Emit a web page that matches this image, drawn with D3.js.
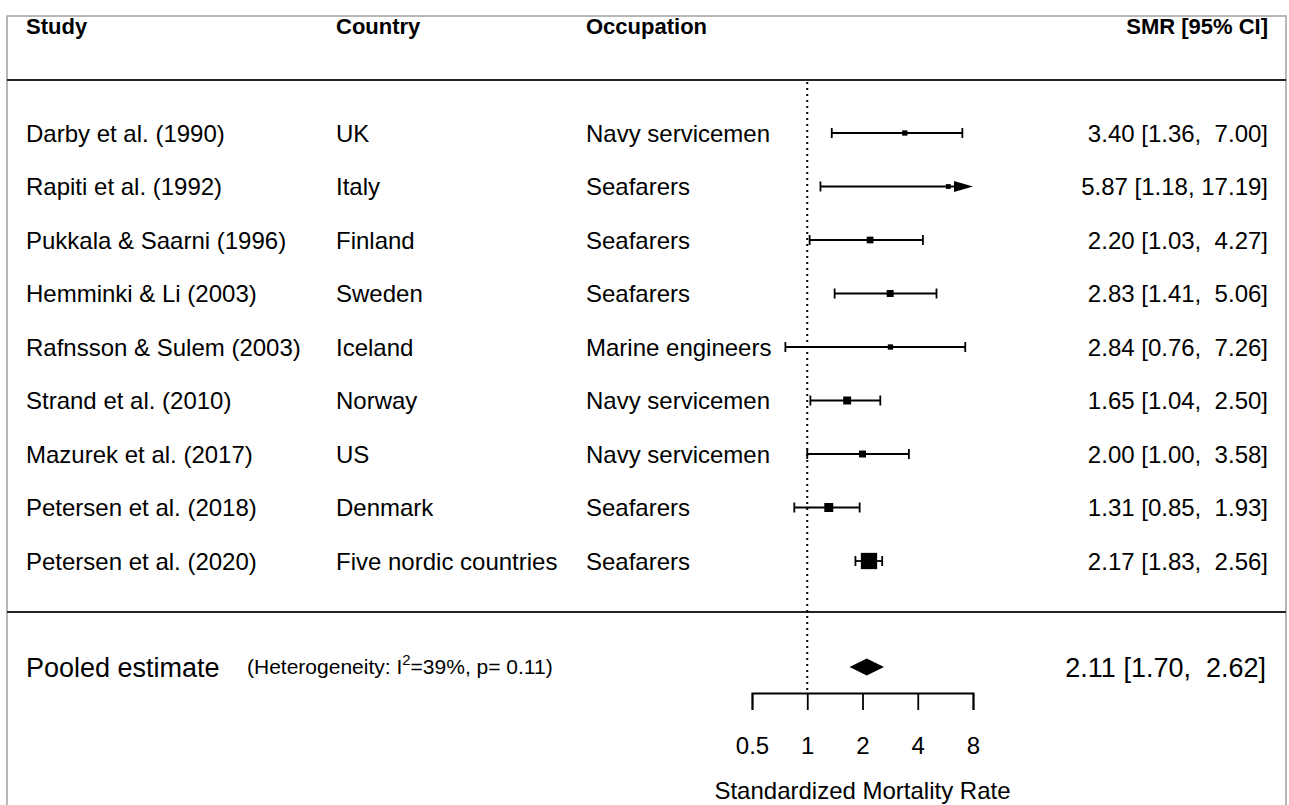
<!DOCTYPE html>
<html>
<head>
<meta charset="utf-8">
<script src="https://cdn.jsdelivr.net/npm/d3@7"></script>
<style>
  html, body { margin: 0; padding: 0; background: #fff; }
  svg text { font-family: "Liberation Sans", Arial, Helvetica, sans-serif; fill: #000; white-space: pre; }
</style>
</head>
<body>
<svg id="chart" width="1289" height="805"></svg>
<script>
// ---- data ----
const studies = ["Darby et al. (1990)", "Rapiti et al. (1992)", "Pukkala & Saarni (1996)", "Hemminki & Li (2003)",
  "Rafnsson & Sulem (2003)", "Strand et al. (2010)", "Mazurek et al. (2017)", "Petersen et al. (2018)", "Petersen et al. (2020)"];
const countries = ["UK", "Italy", "Finland", "Sweden", "Iceland", "Norway", "US", "Denmark", "Five nordic countries"];
const occupations = ["Navy servicemen", "Seafarers", "Seafarers", "Seafarers", "Marine engineers",
  "Navy servicemen", "Navy servicemen", "Seafarers", "Seafarers"];
const smr = [3.40, 5.87, 2.20, 2.83, 2.84, 1.65, 2.00, 1.31, 2.17];
const lower = [1.36, 1.18, 1.03, 1.41, 0.76, 1.04, 1.00, 0.85, 1.83];
const upper = [7.00, 17.19, 4.27, 5.06, 7.26, 2.50, 3.58, 1.93, 2.56];
const weights = [5.1, 3.9, 8.6, 9.3, 5.1, 11.8, 9.3, 14.3, 32.5];
const pooled = { est: 2.11, lo: 1.70, hi: 2.62, i2: 39, p: 0.11 };
const headers = ["Study", "Country", "Occupation", "SMR [95% CI]"];
const tickValues = [0.5, 1, 2, 4, 8];
const axisTitle = "Standardized Mortality Rate";

// ---- layout ----
const svg = d3.select("#chart");
const W = 1289, H = 805;
const colX = { study: 26, country: 336, occ: 586, smr: 1268 };
const x = d3.scaleLog().base(2).domain([0.5, 8]).range([752, 973]);
const y = d3.scaleLinear().domain([0, studies.length - 1]).range([133, 561]);
const yPooled = 667;
const axisY = 693;
const size = d3.scaleLinear().domain(d3.extent(weights)).range([4.8, 16.3]);

// border
svg.append("path")
  .attr("d", `M7,${H + 5}V16H1286V${H + 5}`)
  .attr("fill", "none").attr("stroke", "#a0a0a0").attr("stroke-width", 1.5);

// horizontal rules
[80, 612].forEach(yy => {
  svg.append("line").attr("x1", 7).attr("x2", 1286).attr("y1", yy).attr("y2", yy)
    .attr("stroke", "#222").attr("stroke-width", 2);
});

// headers
const hdr = svg.append("g").attr("font-size", 22).attr("font-weight", "bold");
hdr.append("text").attr("x", colX.study).attr("y", 34).text(headers[0]);
hdr.append("text").attr("x", colX.country).attr("y", 34).text(headers[1]);
hdr.append("text").attr("x", colX.occ).attr("y", 34).text(headers[2]);
hdr.append("text").attr("x", colX.smr).attr("y", 34).attr("text-anchor", "end").text(headers[3]);

// reference line at 1
svg.append("line").attr("x1", x(1)).attr("x2", x(1)).attr("y1", 82).attr("y2", axisY)
  .attr("stroke", "#000").attr("stroke-width", 2).attr("stroke-dasharray", "2,4");

// rows text
const rows = svg.append("g").attr("font-size", 24);
const fmt = d3.format(".2f");
const pad = (s, n) => s.padStart(n, " ");
studies.forEach((s, i) => {
  const yy = y(i) + 8.5;
  rows.append("text").attr("x", colX.study).attr("y", yy).text(s);
  rows.append("text").attr("x", colX.country).attr("y", yy).text(countries[i]);
  rows.append("text").attr("x", colX.occ).attr("y", yy).text(occupations[i]);
  rows.append("text").attr("x", colX.smr).attr("y", yy).attr("text-anchor", "end")
    .text(`${fmt(smr[i])} [${fmt(lower[i])}, ${pad(fmt(upper[i]), 5)}]`);
});

// CI marks
const marks = svg.append("g");
const xMax = x.domain()[1];
const sw = 1.8;
studies.forEach((s, i) => {
  const yy = y(i);
  const x0 = x(lower[i]);
  const trunc = upper[i] > xMax;
  const x1 = trunc ? x(xMax) - 19 : x(upper[i]);
  marks.append("line").attr("x1", x0).attr("x2", x1).attr("y1", yy).attr("y2", yy)
    .attr("stroke", "#000").attr("stroke-width", sw);
  marks.append("line").attr("x1", x0).attr("x2", x0).attr("y1", yy - 5).attr("y2", yy + 5)
    .attr("stroke", "#000").attr("stroke-width", sw);
  if (trunc) {
    const xt = x(xMax);
    marks.append("path").attr("d", `M${xt},${yy}L${xt - 19},${yy - 5.5}L${xt - 19},${yy + 5.5}Z`).attr("fill", "#000");
  } else {
    marks.append("line").attr("x1", x1).attr("x2", x1).attr("y1", yy - 5).attr("y2", yy + 5)
      .attr("stroke", "#000").attr("stroke-width", sw);
  }
  const sz = size(weights[i]);
  marks.append("rect").attr("x", x(smr[i]) - sz / 2).attr("y", yy - sz / 2)
    .attr("width", sz).attr("height", sz).attr("fill", "#000");
});

// pooled
svg.append("text").attr("x", colX.study).attr("y", yPooled + 9.5).attr("font-size", 27).text("Pooled estimate");
const het = svg.append("text").attr("x", 247).attr("y", yPooled + 7).attr("font-size", 21);
het.append("tspan").text("(Heterogeneity: I");
het.append("tspan").attr("font-size", 15).attr("dy", -9).text("2");
het.append("tspan").attr("dy", 9).text(`=${pooled.i2}%, p= ${pooled.p.toFixed(2)})`);
svg.append("text").attr("x", 1266).attr("y", yPooled + 9.5).attr("font-size", 27).attr("text-anchor", "end")
  .text(`${fmt(pooled.est)} [${fmt(pooled.lo)}, ${pad(fmt(pooled.hi), 5)}]`);
svg.append("path")
  .attr("d", `M${x(pooled.lo)},${yPooled}L${x(pooled.est)},${yPooled - 8.5}L${x(pooled.hi)},${yPooled}L${x(pooled.est)},${yPooled + 8.5}Z`)
  .attr("fill", "#000");

// axis
const axis = d3.axisBottom(x).tickValues(tickValues).tickSize(17).tickSizeOuter(17).tickPadding(27)
  .tickFormat(d => String(d));
const ag = svg.append("g").attr("transform", `translate(0,${axisY})`).call(axis);
ag.selectAll("path, line").attr("stroke", "#000").attr("stroke-width", sw);
ag.selectAll("text").attr("font-size", 24).attr("font-family", "Liberation Sans, Arial, sans-serif").attr("fill", "#000");
ag.attr("font-size", null).attr("font-family", null);

svg.append("text").attr("x", (x.range()[0] + x.range()[1]) / 2).attr("y", 799).attr("text-anchor", "middle")
  .attr("font-size", 24).text(axisTitle);
</script>
</body>
</html>
